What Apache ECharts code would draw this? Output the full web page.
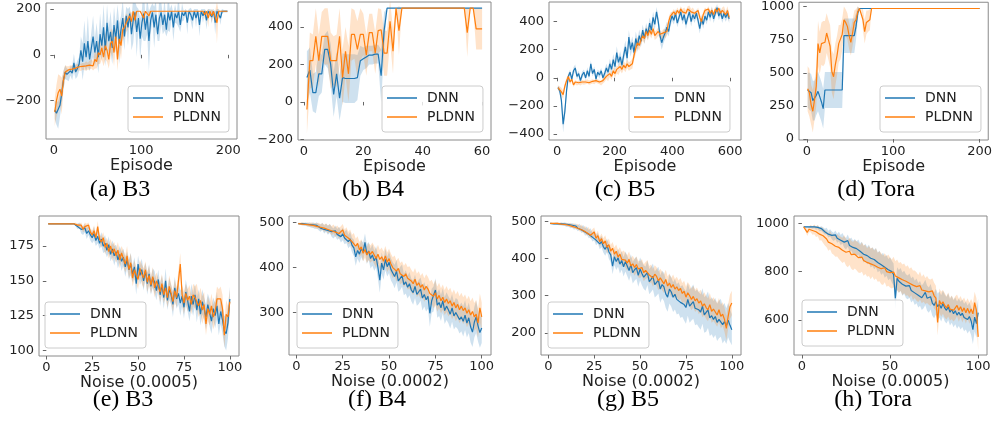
<!DOCTYPE html>
<html><head><meta charset="utf-8">
<script src="https://cdn.jsdelivr.net/npm/echarts@6/dist/echarts.min.js"></script>
<style>html,body{margin:0;padding:0;background:#fff}#c{width:995px;height:421px}</style>
</head><body><div id="c"></div>
<script>
// ---------- (a) B3 : episodes 1..199 step 2 ----------
const dnnA = [-240,-255,-262,-220,-170,-110,-75,
-85,-90,-70,-80,-35,-75,-60,-40,
20,-30,50,-10,60,-20,30,80,10,60,-10,90,40,120,20,140,60,100,30,130,70,150,50,110,160,
80,170,120,180,90,150,185,100,160,70,140,180,110,170,60,150,185,120,175,90,160,185,130,175,110,185,150,190,120,180,160,190,130,185,170,
190,140,190,175,150,190,160,190,130,190,170,190,150,190,190,165,190,140,190,190,160,190,190,190,190];
const dnnSdA = [40,50,60,50,45,40,30,
25,25,20,30,40,30,35,30,
60,80,100,60,110,50,70,90,60,80,70,90,60,100,70,80,60,90,70,80,60,70,90,60,80,
60,40,80,30,70,100,50,110,40,90,60,120,50,80,130,60,40,90,60,30,100,50,40,70,30,80,50,30,60,40,25,70,30,40,20,
10,50,10,30,40,10,40,10,50,10,30,10,40,10,10,30,10,50,10,10,30,10,5,5,5];
const plA = [-250,-200,-165,-150,-180,-110,-75,
-70,-65,-60,-62,-55,-58,-55,-52,
-55,-50,-52,-48,-50,-45,-40,-48,-20,-30,10,0,30,-10,40,20,-20,50,60,10,80,-20,70,40,110,
120,140,140,170,145,190,150,190,190,190,190,160,190,190,170,190,190,190,190,190,190,190,190,190,190,190,190,190,190,190,190,190,190,190,190,
190,190,190,190,190,190,190,190,190,190,190,175,190,160,190,170,190,190,140,190,190,190,190,190,190];
const plSdA = [60,70,80,60,80,40,30,
20,15,15,15,15,15,15,15,
15,15,15,20,15,20,20,20,40,30,50,40,50,40,60,50,40,60,50,60,40,50,40,60,50,
40,40,30,20,40,0,40,0,0,0,0,30,0,0,20,0,0,0,0,0,0,0,0,0,0,0,0,0,0,0,0,0,0,0,0,
0,0,0,0,0,0,0,0,0,0,0,20,0,40,0,30,0,0,90,0,0,0,0,0,0];

// ---------- (b) B4 : episodes 1..60 ----------
const dnnB = [130,170,50,50,150,150,280,280,200,40,150,20,130,125,125,125,125,130,220,230,240,250,250,255,255,140,380,500,
500,500,500,500,500,500,500,500,500,500,500,500,500,500,500,500,500,500,500,500,500,500,500,500,500,500,500,500,500,500,500,500];
const dnnSdB = [140,120,100,110,120,100,80,100,110,120,120,120,130,130,130,130,130,120,80,60,60,50,50,50,50,140,100,
0,0,0,0,0,0,0,0,0,0,0,0,0,0,0,0,0,0,0,0,0,0,0,0,0,0,0,0,0,0,0,0,0,0,0,0,0];
const plB = [-40,220,220,350,220,350,350,350,220,220,220,350,130,270,150,360,360,280,360,360,250,370,370,260,380,385,260,260,430,270,500,380,500,
500,500,500,500,500,500,500,500,500,500,500,500,500,500,500,500,500,500,500,500,500,370,500,500,390,390,390];
const plSdB = [130,150,140,150,140,130,150,150,150,130,140,150,150,130,150,140,130,150,140,110,110,100,100,110,120,110,120,120,110,120,0,130,0,
0,0,0,0,0,0,0,0,0,0,0,0,0,0,0,0,0,0,0,0,0,130,0,0,110,110,110];

// ---------- (c) B5 : episodes 3..597 step 6 ----------
const dnnC = [-70,-90,-160,-330,-240,-90,10,40,-10,50,
70,10,30,-20,20,40,0,50,10,100,
30,60,-10,40,20,50,0,30,70,40,
100,60,130,80,180,110,150,90,160,220,
140,290,200,250,180,280,230,300,260,340,
280,350,310,390,340,430,380,470,400,300,
250,290,320,360,330,400,440,410,460,390,
430,470,410,450,380,430,470,400,450,420,
460,410,350,420,380,440,410,470,430,480,
420,460,500,440,470,420,460,430,460,420];
const dnnSdC = [15,20,40,60,50,30,20,20,20,25,
25,20,20,20,25,20,20,25,20,25,
20,20,20,20,25,20,20,30,30,30,
35,35,40,40,45,40,40,40,45,45,
45,50,50,45,45,50,45,45,40,40,
40,40,40,40,40,40,40,35,40,45,
50,45,40,40,35,35,35,30,30,30,
30,30,30,35,35,30,30,35,30,30,
30,35,35,30,30,30,30,30,30,30,
30,30,25,30,30,30,30,30,30,30];
const plC = [-70,-80,-100,-120,-60,-20,10,-30,-10,-50,
-30,-40,-35,-40,-30,-35,-30,-25,-35,-30,
-25,-30,-20,-25,-30,-40,-20,-10,10,0,
30,10,50,30,60,50,80,60,90,70,
100,80,90,100,160,210,250,230,270,300,
280,330,300,340,310,350,300,310,330,310,
300,320,310,330,400,440,450,470,450,480,
460,490,470,480,460,490,495,470,480,460,
450,480,430,400,450,480,470,490,460,480,
450,490,470,495,460,480,490,450,480,430];
const plSdC = [15,20,30,30,25,20,20,20,15,15,
15,15,15,15,15,15,15,15,15,15,
15,15,15,15,15,15,20,20,20,25,
25,25,25,30,30,30,30,30,30,30,
30,30,30,35,35,40,40,35,35,35,
35,35,35,35,30,30,30,30,30,30,
30,30,30,30,30,25,20,20,20,20,
20,20,20,20,20,20,20,20,20,20,
20,20,25,30,25,20,20,20,20,20,
20,20,20,15,20,20,20,25,30,30];

// ---------- (d) Tora ----------
const xD = [1,3,5,7,9,11,13,15,17,19,21,23,25,27,29,31,33,35,37,39,41,43,45,47,49,51,53,55,57,59,61,63,65,67,69,71,73,75,77,79,200];
const dnnD = [370,360,350,290,290,330,360,320,280,230,370,370,370,370,370,370,370,370,370,370,370,780,780,780,780,780,780,780,850,950,985,985,985,985,985,985,985,985,985,985,985];
const dnnSdD = [130,140,140,150,150,150,150,150,150,150,135,135,135,135,135,135,135,135,135,135,135,130,130,130,130,130,130,130,100,50,0,0,0,0,0,0,0,0,0,0,0];
const plD = [380,350,260,210,300,400,720,650,720,720,730,800,750,700,510,470,560,630,720,730,790,900,880,850,780,730,800,880,900,960,985,985,900,810,880,890,900,985,985,985,985];
const plSdD = [170,180,150,160,150,150,170,160,160,170,160,150,150,160,160,170,160,150,140,130,120,100,100,100,100,100,100,90,80,40,0,0,80,90,90,80,80,0,0,0,0];

// ---------- (e) B3 noise : 1..100 ----------
const dnnE = [191,191,191,191,191,191,191,191,191,191,191,191,191,191,191,
190,189,190,187,186,188,184,186,183,181,184,179,182,177,180,
175,177,172,176,169,173,168,171,165,169,164,167,160,165,158,162,155,160,148,162,
154,158,150,157,148,155,146,152,149,143,151,140,147,138,150,136,144,140,133,145,
137,141,134,139,131,142,136,128,139,133,140,129,137,126,135,130,124,133,127,121,
130,125,132,119,128,122,114,112,120,137];
const dnnSdE = [0,0,0,0,0,0,0,0,0,0,0,0,0,0,0,
1,2,2,3,3,3,4,3,4,4,5,4,5,4,5,
5,6,5,6,5,6,7,5,6,6,7,6,7,6,7,8,6,7,8,6,7,8,7,6,8,7,6,7,8,7,
7,8,7,8,9,7,8,7,9,8,7,8,9,7,8,9,8,7,9,8,8,9,7,8,9,8,9,8,10,9,8,9,10,8,9,10,11,12,11,9];
const plE = [191,191,191,191,191,191,191,191,191,191,191,191,191,191,191,
191,190,189,190,187,189,188,190,185,183,186,181,189,180,178,
181,174,177,171,175,170,173,168,172,165,170,166,162,168,158,163,152,158,154,151,
159,155,152,158,149,154,147,153,145,150,146,142,148,140,145,138,146,141,135,143,
138,150,162,140,134,141,136,139,133,140,138,139,132,136,129,133,119,130,126,132,
124,128,137,136,137,130,111,126,124,135];
const plSdE = [0,0,0,0,0,0,0,0,0,0,0,0,0,0,0,
1,1,2,2,2,3,3,2,3,3,4,3,4,3,4,
4,5,4,5,5,6,5,5,6,6,5,6,6,7,6,7,6,7,6,7,6,7,7,6,7,7,6,7,7,6,
6,7,7,6,7,7,8,7,7,8,7,8,8,7,8,7,8,8,7,8,8,9,8,9,10,9,8,9,8,9,9,8,9,8,9,10,9,10,8,9];

// ---------- (f) B4 noise ----------
const dnnF = [498,497,498,496,497,495,496,494,495,492,
494,490,488,492,485,489,483,487,480,476,
482,474,478,469,475,466,470,458,464,450,
444,424,438,430,442,435,456,430,437,420,
428,415,424,400,372,410,395,418,402,412,
396,388,380,392,370,376,382,362,368,356,
364,350,344,358,340,346,352,332,340,328,
336,298,326,330,350,316,322,310,326,304,
314,306,296,310,292,300,296,284,290,280,
294,276,288,268,256,278,290,270,255,265];
const dnnSdF = [2,2,3,3,4,4,5,5,6,6,
7,7,8,8,9,9,10,10,11,11,
12,12,13,13,14,14,15,15,16,16,
18,20,18,20,19,21,20,22,20,22,
24,22,24,26,28,24,22,24,22,24,
25,24,26,25,24,26,25,24,26,25,
26,25,27,26,25,27,26,28,27,26,
28,30,27,28,26,28,30,29,28,30,
31,30,32,31,30,32,33,31,32,34,
33,32,34,35,33,34,36,35,34,33];
const plF = [498,498,497,498,496,497,495,496,494,495,
492,494,490,492,488,490,485,488,482,486,
479,483,476,480,484,472,476,466,470,458,
462,448,454,440,446,432,440,428,436,430,
436,428,420,430,418,424,414,426,412,420,
408,400,404,392,398,386,390,380,386,376,
378,370,364,374,360,366,356,362,350,358,
352,342,346,336,344,330,338,326,334,322,
330,320,326,314,322,310,318,306,314,304,
310,298,306,294,302,290,296,276,310,290];
const plSdF = [2,2,3,3,3,4,4,5,5,5,
6,6,7,7,8,8,9,9,10,10,
11,11,12,12,13,13,14,14,15,15,
15,16,16,17,17,18,18,18,19,19,
20,20,20,21,21,21,22,22,22,22,
23,23,23,23,24,24,24,24,24,25,
25,25,25,25,26,26,26,26,26,27,
27,27,27,27,28,28,28,28,28,28,
29,29,29,29,29,30,30,30,30,30,
30,31,31,31,31,31,32,32,32,32];

// ---------- (g) B5 noise ----------
const dnnG = [495,495,494,495,494,493,494,492,493,490,
492,488,490,485,488,482,486,478,482,472,
476,466,470,458,462,450,455,440,446,432,
425,436,418,410,380,405,392,402,385,395,
378,392,380,368,384,362,370,376,355,372,
360,350,346,362,338,344,352,330,336,342,
318,330,324,305,296,318,310,296,304,290,
294,282,286,276,268,290,272,278,284,266,
270,262,256,272,248,252,262,240,246,236,
244,228,236,240,222,230,218,234,220,208];
const dnnSdG = [2,2,2,3,3,3,4,4,5,5,
5,6,6,7,7,8,8,9,9,10,
11,11,12,12,13,14,14,15,15,16,
17,18,19,20,22,22,23,24,25,25,
26,27,27,28,28,29,30,30,31,31,
32,32,33,33,34,34,35,35,36,36,
37,37,38,38,39,39,40,40,41,41,
42,42,43,43,44,44,45,45,46,46,
47,47,48,48,48,49,49,49,50,50,
50,50,51,51,51,50,48,46,44,42];
const plG = [495,495,495,494,495,494,493,494,492,493,
490,492,487,490,484,487,480,484,476,480,
470,475,463,468,472,455,462,446,454,440,
448,430,438,420,428,412,420,404,412,398,
402,396,388,398,380,386,376,384,372,370,
376,362,368,372,356,360,348,358,352,340,
348,340,332,344,326,334,322,330,318,324,
314,320,306,312,296,308,300,290,298,286,
292,280,286,272,278,268,262,276,258,264,
256,248,262,244,250,236,212,244,270,280];
const plSdG = [2,2,2,2,3,3,3,3,4,4,
4,5,5,6,6,7,7,8,8,9,
9,10,10,11,12,12,13,13,14,15,
15,16,16,17,17,18,18,19,19,20,
20,20,21,21,21,22,22,22,22,23,
23,23,23,24,24,24,24,24,25,25,
25,25,25,26,26,26,26,27,27,27,
27,28,28,28,28,29,29,29,29,30,
30,30,30,30,31,31,31,31,31,32,
32,32,32,32,32,33,33,33,33,33];

// ---------- (h) Tora noise ----------
const dnnH = [985,985,985,983,985,982,985,980,983,976,
978,972,965,968,955,960,950,944,952,938,
945,930,938,922,915,928,908,914,900,906,
895,902,884,890,872,880,866,874,855,862,
850,858,838,845,828,836,818,826,808,815,
800,788,690,772,760,768,748,756,740,735,
742,722,730,712,720,702,710,692,700,714,
690,682,696,670,660,676,655,664,648,668,
650,640,655,632,644,626,638,620,632,618,
628,610,618,602,614,596,560,612,585,630];
const dnnSdH = [3,3,4,4,5,5,6,7,8,9,
10,11,12,13,14,15,16,17,18,19,
20,21,22,23,24,25,26,27,28,29,
30,31,32,33,34,35,36,37,38,39,
40,40,41,41,42,42,43,43,44,44,
45,45,46,46,47,47,48,48,49,49,
50,50,50,50,51,51,51,51,52,52,
52,52,53,53,53,53,54,54,54,54,
55,55,55,55,56,56,56,56,57,57,
57,57,58,58,58,58,59,59,59,59];
const plH = [985,978,962,975,978,970,975,965,970,955,
958,948,940,935,922,930,915,912,905,908,
900,894,888,896,880,874,884,870,864,872,
866,858,852,860,846,850,838,844,832,840,
826,834,818,822,812,806,816,800,806,796,
790,798,782,786,774,780,766,772,760,764,
752,760,744,748,738,730,742,724,732,720,
726,716,712,720,700,690,590,680,665,675,
660,650,664,645,652,640,650,660,640,655,
635,650,630,648,628,645,625,672,640,530];
const plSdH = [5,10,15,12,15,18,20,22,24,26,
28,30,32,34,36,38,40,42,44,46,
48,50,52,54,55,56,57,58,58,59,
60,62,58,61,63,60,59,62,64,60,
61,63,60,62,64,61,60,63,65,62,
60,63,61,64,62,60,63,61,60,62,
60,58,61,57,59,56,58,55,57,54,
56,53,55,52,54,51,53,50,52,49,
51,48,50,47,49,46,48,45,47,44,
46,43,45,42,44,42,44,45,50,55];

// ---------- tick labels ----------
const xTicksA=[0,100,200], yTicksA=[-200,0,200];
const xTicksB=[0,20,40,60], yTicksB=[-200,0,200,400];
const xTicksC=[0,200,400,600], yTicksC=[-400,-200,0,200,400];
const xTicksD=[0,100,200], yTicksD=[0,250,500,750,1000];
const xTicksE=[0,25,50,75,100], yTicksE=[100,125,150,175];
const xTicksF=[0,25,50,75,100], yTicksF=[300,400,500];
const xTicksG=[0,25,50,75,100], yTicksG=[200,300,400,500];
const xTicksH=[0,50,100], yTicksH=[600,800,1000];

function seq(start, step, n){ const a=[]; for(let i=0;i<n;i++) a.push(start+step*i); return a; }
const xA = seq(1,2,dnnA.length), xB = seq(1,1,dnnB.length), xC = seq(3,6,dnnC.length);
const xE = seq(1,1,dnnE.length), xF = seq(1,1,dnnF.length), xG = seq(1,1,dnnG.length), xH = seq(1,1,dnnH.length);

const panels = [
 {x:xA,d:dnnA,ds:dnnSdA,p:plA,ps:plSdA,box:[46,3,191,136],xr:[-9,210],yr:[-367,226],xt:xTicksA,yt:yTicksA,xn:'Episode',ng:19,title:'(a) B3',tc:[120,190],lg:[128,86]},
 {x:xB,d:dnnB,ds:dnnSdB,p:plB,ps:plSdB,box:[298,2,193,138],xr:[-2,63],yr:[-203,533],xt:xTicksB,yt:yTicksB,xn:'Episode',ng:19,title:'(b) B4',tc:[373,190],lg:[382,86]},
 {x:xC,d:dnnC,ds:dnnSdC,p:plC,ps:plSdC,box:[549,2,192,138],xr:[-28,638],yr:[-443,540],xt:xTicksC,yt:yTicksC,xn:'Episode',ng:19,title:'(c) B5',tc:[625,190],lg:[629,86]},
 {x:xD,d:dnnD,ds:dnnSdD,p:plD,ps:plSdD,box:[799,2,192,138],xr:[-9,210],yr:[-7,1032],xt:xTicksD,yt:yTicksD,xn:'Episode',ng:19,title:'(d) Tora',tc:[876,190],lg:[880,86]},
 {x:xE,d:dnnE,ds:dnnSdE,p:plE,ps:plSdE,box:[39,216,200,140],xr:[-4,105],yr:[96,196.6],xt:xTicksE,yt:yTicksE,xn:'Noise (0.0005)',ng:18,title:'(e) B3',tc:[123,400],lg:[45,302]},
 {x:xF,d:dnnF,ds:dnnSdF,p:plF,ps:plSdF,box:[289,216,202,139],xr:[-4,105],yr:[205,515],xt:xTicksF,yt:yTicksF,xn:'Noise (0.0002)',ng:18,title:'(f) B4',tc:[377,400],lg:[297,302]},
 {x:xG,d:dnnG,ds:dnnSdG,p:plG,ps:plSdG,box:[541,216,200,139],xr:[-4,105],yr:[140,515],xt:xTicksG,yt:yTicksG,xn:'Noise (0.0002)',ng:18,title:'(g) B5',tc:[628,400],lg:[548,302]},
 {x:xH,d:dnnH,ds:dnnSdH,p:plH,ps:plSdH,box:[794,216,193,139],xr:[-4.5,105],yr:[455,1030],xt:xTicksH,yt:yTicksH,xn:'Noise (0.0005)',ng:18,title:'(h) Tora',tc:[873,400],lg:[802,300]}
];

const C_DNN='#1f77b4', C_PL='#ff7f0e';
const BAND_DNN='rgba(31,119,180,0.22)', BAND_PL='rgba(255,127,14,0.22)';
const fmt = v => String(v).replace('-', '\u2212');
const tickText = {fontFamily:'DejaVu Sans', fontSize:13, color:'#222'};
const grid=[], xAxis=[], yAxis=[], series=[], legend=[], graphic=[];

panels.forEach((P,i) => {
  grid.push({left:P.box[0], top:P.box[1], width:P.box[2], height:P.box[3], show:true, borderColor:'#8a8a8a', borderWidth:1, backgroundColor:'rgba(0,0,0,0)'});
  xAxis.push({type:'value', gridIndex:i, min:P.xr[0], max:P.xr[1], axisLine:{show:false}, splitLine:{show:false},
    axisTick:{show:true, customValues:P.xt, length:3.5, lineStyle:{color:'#666', width:1}},
    axisLabel:Object.assign({customValues:P.xt, margin:5, formatter:fmt}, tickText),
    name:P.xn, nameLocation:'middle', nameGap:P.ng, nameTextStyle:{fontFamily:'DejaVu Sans', fontSize:16, color:'#222'}});
  yAxis.push({type:'value', gridIndex:i, min:P.yr[0], max:P.yr[1], axisLine:{show:false}, splitLine:{show:false},
    axisTick:{show:true, customValues:P.yt, length:3.5, lineStyle:{color:'#666', width:1}},
    axisLabel:Object.assign({customValues:P.yt, margin:5, formatter:fmt}, tickText)});
  // shaded band: one polygon through lower and upper bounds, projected by the axes
  const band = (m, s, col) => {
    const rows = P.x.map((x,k)=>[x, m[k]-s[k], m[k]+s[k]]);
    series.push({type:'custom', xAxisIndex:i, yAxisIndex:i, silent:true, z:1, clip:true,
      encode:{x:0, y:[1,2]}, data:rows,
      renderItem:(params, api) => {
        if (params.dataIndex !== 0) return null;
        const lo = rows.map(r => api.coord([r[0], r[1]]));
        const hi = rows.map(r => api.coord([r[0], r[2]])).reverse();
        return {type:'polygon', shape:{points:lo.concat(hi)}, style:{fill:col, stroke:null}};
      }});
  };
  band(P.d, P.ds, BAND_DNN);
  band(P.p, P.ps, BAND_PL);
  series.push({name:'DNN', type:'line', xAxisIndex:i, yAxisIndex:i, color:C_DNN, symbol:'none', z:3,
    lineStyle:{width:1.2, color:C_DNN}, data:P.x.map((x,k)=>[x, P.d[k]])});
  series.push({name:'PLDNN', type:'line', xAxisIndex:i, yAxisIndex:i, color:C_PL, symbol:'none', z:4,
    lineStyle:{width:1.2, color:C_PL}, data:P.x.map((x,k)=>[x, P.p[k]])});
  legend.push({left:P.lg[0], top:P.lg[1], orient:'vertical', data:['DNN','PLDNN'], icon:'rect', itemWidth:30, itemHeight:1.5, itemGap:5,
    padding:[5,8,8,5], backgroundColor:'rgba(255,255,255,0.8)', borderColor:'#cccccc', borderWidth:1, borderRadius:3, selectedMode:false, z:10,
    textStyle:{fontFamily:'DejaVu Sans', fontSize:14, color:'#222', padding:[0,0,0,5]}});
  graphic.push({type:'text', x:P.tc[0], y:P.tc[1], silent:true,
    style:{text:P.title, fontFamily:'Liberation Serif', fontSize:24, fill:'#000', textAlign:'center', textVerticalAlign:'middle', align:'center', verticalAlign:'middle'}});
});

const chart = echarts.init(document.getElementById('c'), null, {renderer:'canvas'});
chart.setOption({backgroundColor:'#fff', animation:false, grid, xAxis, yAxis, series, legend, graphic});
</script>
</body></html>
